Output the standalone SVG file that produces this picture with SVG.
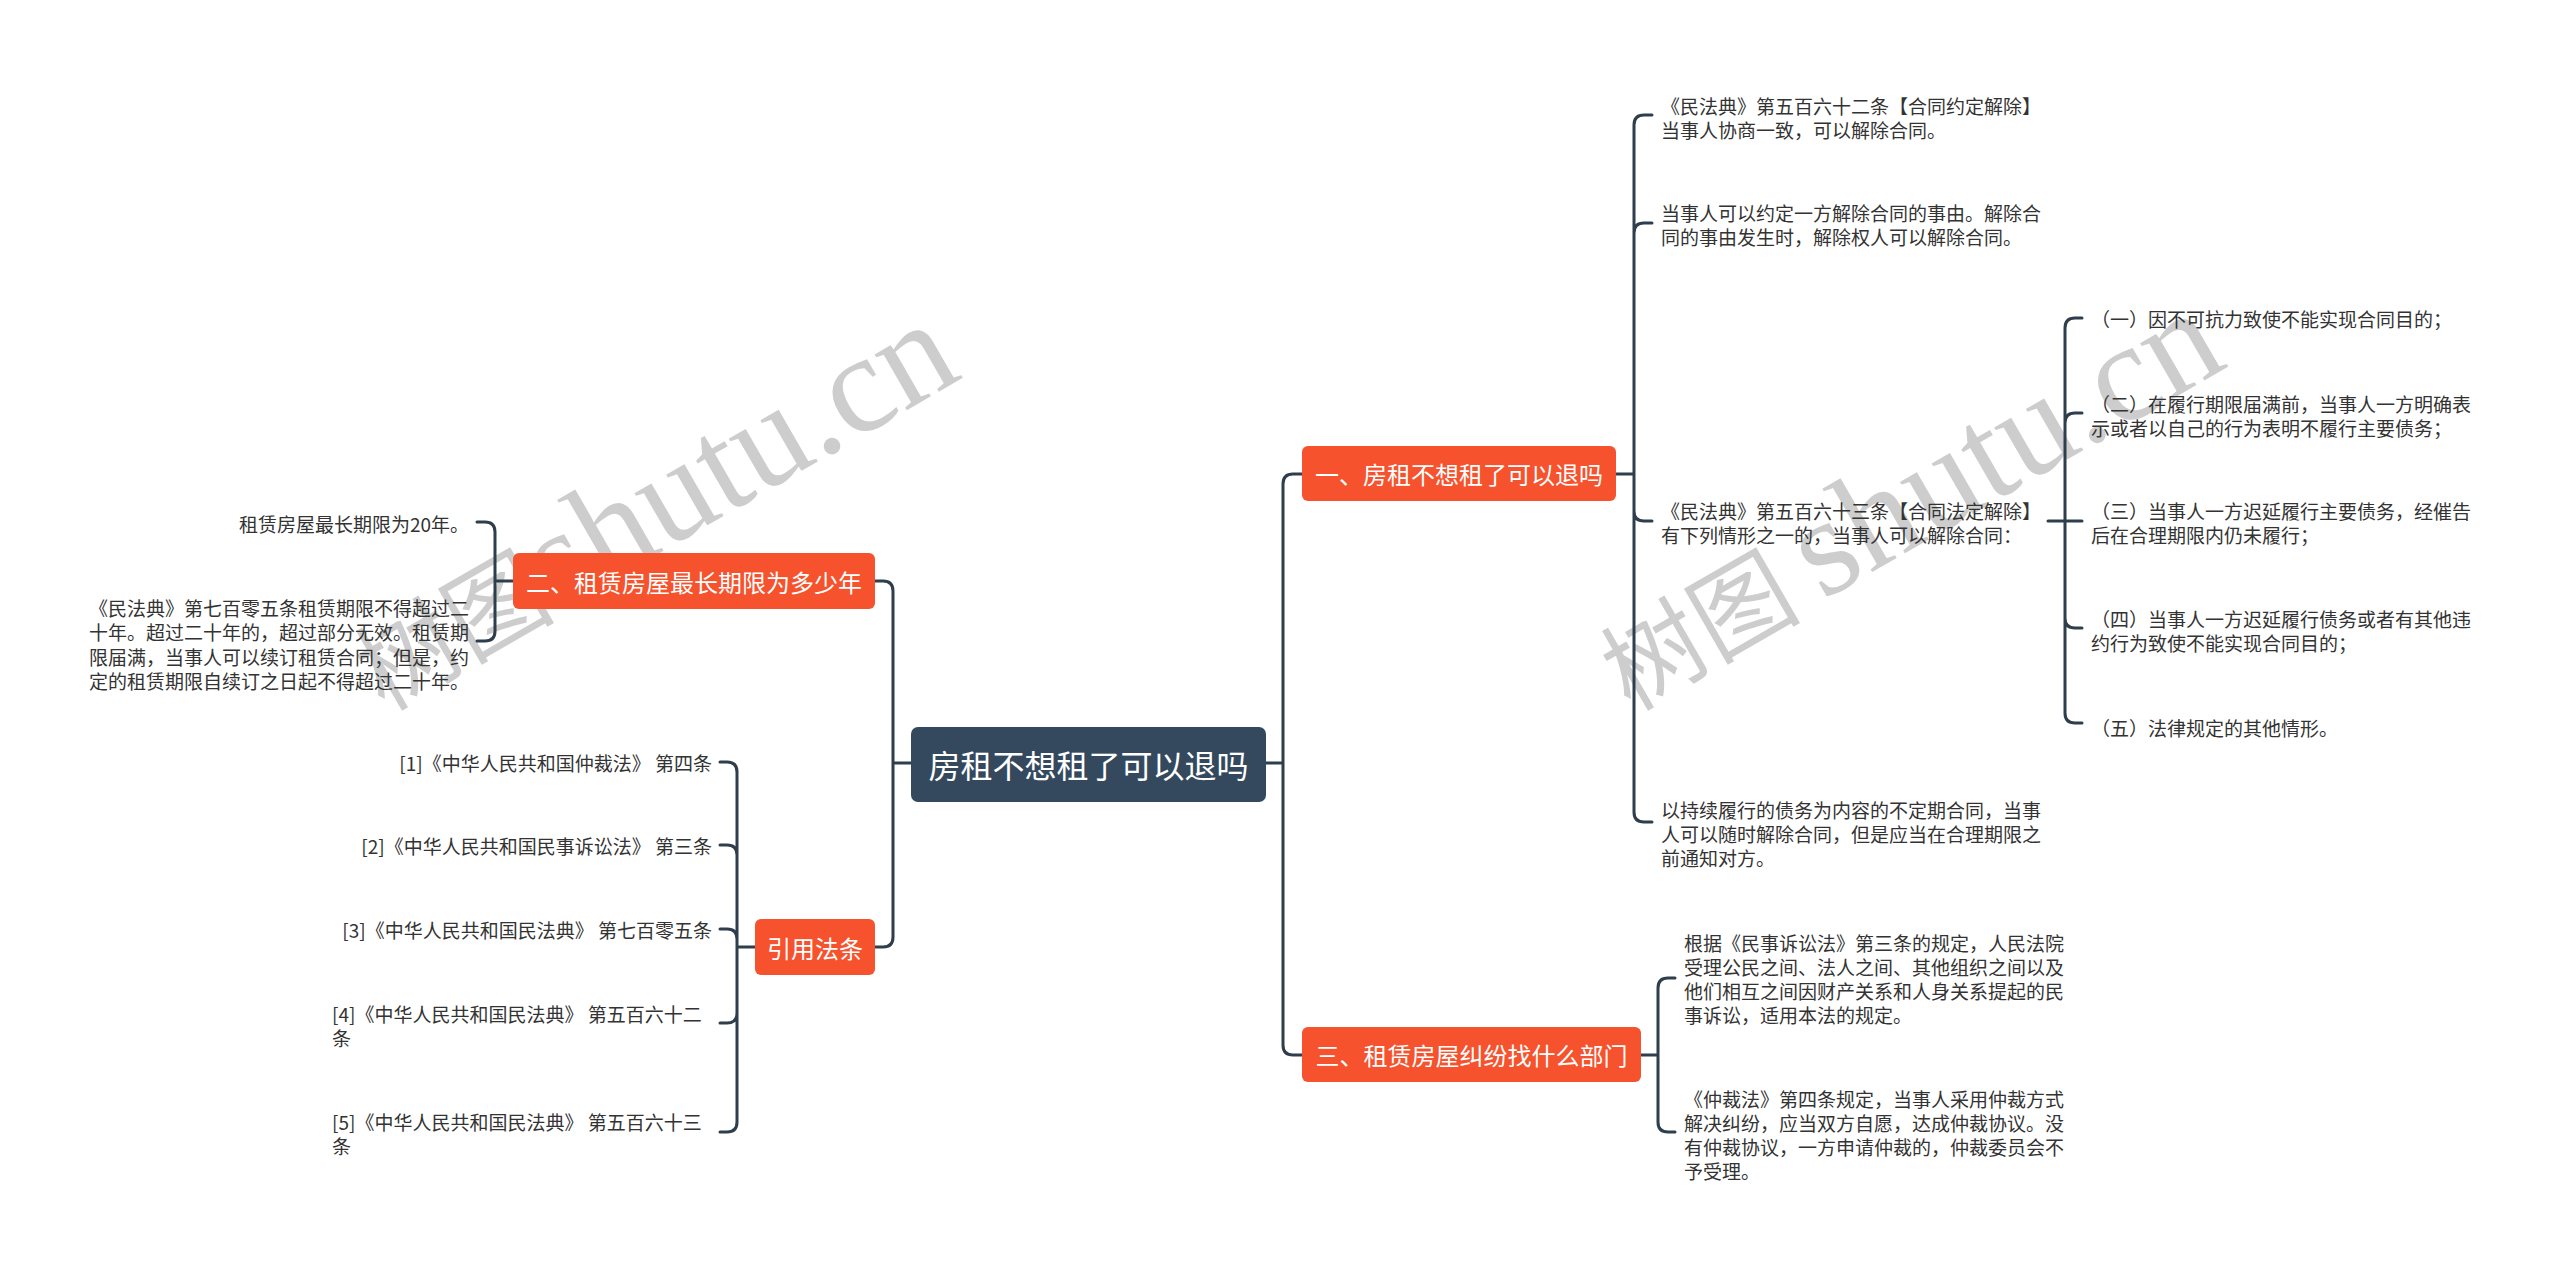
<svg xmlns="http://www.w3.org/2000/svg" width="2560" height="1272" viewBox="0 0 2560 1272">
<style>
.wm{fill:#cdcdcd;font-family:"Liberation Serif","Noto Sans CJK SC",serif;}
.wmc{font-family:"Noto Sans CJK SC","Liberation Serif",sans-serif;}
.conn{fill:none;stroke:#2f3e4d;stroke-width:3;stroke-linecap:round;stroke-linejoin:round;}
.root{fill:#34495e;}
.br{fill:#f5522d;}
.rt{fill:#ffffff;font-family:"Noto Sans CJK SC","Liberation Sans",sans-serif;font-size:32px;text-anchor:middle;dominant-baseline:central;}
.bt{fill:#ffffff;font-family:"Noto Sans CJK SC","Liberation Sans",sans-serif;font-size:24px;text-anchor:middle;dominant-baseline:central;}
.lf{fill:#333333;font-family:"Noto Sans CJK SC","Liberation Sans",sans-serif;font-size:19px;dominant-baseline:central;}
.end{text-anchor:end;}
</style>
<rect width="2560" height="1272" fill="#ffffff"/>
<g id="watermarks">
<text class="wm" transform="translate(384,712) rotate(-30)" x="0" y="0"><tspan class="wmc" font-size="100">树图</tspan><tspan font-size="140">shutu.cn</tspan></text>
<text class="wm" transform="translate(1630,712) rotate(-30)" x="0" y="0"><tspan class="wmc" font-size="100">树图 </tspan><tspan font-size="140">shutu.cn</tspan></text>
</g>
<g id="connectors">
<path class="conn" d="M1266,763 L1283,763 M1283,763 L1283,484 Q1283,474 1293,474 L1302,474 M1283,763 L1283,1045 Q1283,1055 1293,1055 L1302,1055"/>
<path class="conn" d="M1616,474 L1634,474 M1634,474 L1634,125 Q1634,115 1644,115 L1652,115 M1634,474 L1634,233 Q1634,223 1644,223 L1652,223 M1634,474 L1634,511 Q1634,521 1644,521 L1652,521 M1634,474 L1634,812 Q1634,822 1644,822 L1652,822"/>
<path class="conn" d="M2048,521 L2082,521 M2065,521 L2065,328 Q2065,318 2075,318 L2082,318 M2065,521 L2065,423 Q2065,413 2075,413 L2082,413 M2065,521 L2065,618 Q2065,628 2075,628 L2082,628 M2065,521 L2065,713 Q2065,723 2075,723 L2082,723"/>
<path class="conn" d="M1641,1055 L1658,1055 M1658,1055 L1658,988 Q1658,978 1668,978 L1675,978 M1658,1055 L1658,1122 Q1658,1132 1668,1132 L1675,1132"/>
<path class="conn" d="M911,763 L893,763 M893,763 L893,591 Q893,581 883,581 L875,581 M893,763 L893,937 Q893,947 883,947 L875,947"/>
<path class="conn" d="M513,581 L495,581 M495,581 L495,532 Q495,522 485,522 L477,522 M495,581 L495,631 Q495,641 485,641 L477,641"/>
<path class="conn" d="M755,947 L737,947 M737,947 L737,772 Q737,762 727,762 L720,762 M737,947 L737,855 Q737,845 727,845 L720,845 M737,947 L737,939 Q737,929 727,929 L720,929 M737,947 L737,1013 Q737,1023 727,1023 L720,1023 M737,947 L737,1122 Q737,1132 727,1132 L720,1132"/>
</g>
<g id="root">
<rect class="root" x="911" y="727" width="355" height="75" rx="7"/>
<text class="rt" x="1088.5" y="764">房租不想租了可以退吗</text>
</g>
<g id="branch1">
<rect class="br" x="1302" y="446" width="314" height="55" rx="6"/>
<text class="bt" x="1459" y="473.5">一、房租不想租了可以退吗</text>
</g>
<g id="branch2">
<rect class="br" x="513" y="553" width="362" height="56" rx="6"/>
<text class="bt" x="694" y="581">二、租赁房屋最长期限为多少年</text>
</g>
<g id="branch3">
<rect class="br" x="1302" y="1027" width="339" height="55" rx="6"/>
<text class="bt" x="1471.5" y="1054.5">三、租赁房屋纠纷找什么部门</text>
</g>
<g id="branch4">
<rect class="br" x="755" y="919" width="120" height="56" rx="6"/>
<text class="bt" x="815" y="947">引用法条</text>
</g>
<g id="b1c1">
<text class="lf" x="1661" y="105">《民法典》第五百六十二条【合同约定解除】</text>
<text class="lf" x="1661" y="129">当事人协商一致，可以解除合同。</text>
</g>
<g id="b1c2">
<text class="lf" x="1661" y="212">当事人可以约定一方解除合同的事由。解除合</text>
<text class="lf" x="1661" y="236">同的事由发生时，解除权人可以解除合同。</text>
</g>
<g id="b1c3">
<text class="lf" x="1661" y="510">《民法典》第五百六十三条【合同法定解除】</text>
<text class="lf" x="1661" y="534">有下列情形之一的，当事人可以解除合同：</text>
</g>
<g id="b1c4">
<text class="lf" x="1661" y="809">以持续履行的债务为内容的不定期合同，当事</text>
<text class="lf" x="1661" y="833">人可以随时解除合同，但是应当在合理期限之</text>
<text class="lf" x="1661" y="857">前通知对方。</text>
</g>
<g id="b1c3s1">
<text class="lf" x="2091" y="318">（一）因不可抗力致使不能实现合同目的；</text>
</g>
<g id="b1c3s2">
<text class="lf" x="2091" y="403">（二）在履行期限届满前，当事人一方明确表</text>
<text class="lf" x="2091" y="427">示或者以自己的行为表明不履行主要债务；</text>
</g>
<g id="b1c3s3">
<text class="lf" x="2091" y="510">（三）当事人一方迟延履行主要债务，经催告</text>
<text class="lf" x="2091" y="534">后在合理期限内仍未履行；</text>
</g>
<g id="b1c3s4">
<text class="lf" x="2091" y="618">（四）当事人一方迟延履行债务或者有其他违</text>
<text class="lf" x="2091" y="642">约行为致使不能实现合同目的；</text>
</g>
<g id="b1c3s5">
<text class="lf" x="2091" y="727">（五）法律规定的其他情形。</text>
</g>
<g id="b3c1">
<text class="lf" x="1684" y="942">根据《民事诉讼法》第三条的规定，人民法院</text>
<text class="lf" x="1684" y="966">受理公民之间、法人之间、其他组织之间以及</text>
<text class="lf" x="1684" y="990">他们相互之间因财产关系和人身关系提起的民</text>
<text class="lf" x="1684" y="1014">事诉讼，适用本法的规定。</text>
</g>
<g id="b3c2">
<text class="lf" x="1684" y="1098">《仲裁法》第四条规定，当事人采用仲裁方式</text>
<text class="lf" x="1684" y="1122">解决纠纷，应当双方自愿，达成仲裁协议。没</text>
<text class="lf" x="1684" y="1146">有仲裁协议，一方申请仲裁的，仲裁委员会不</text>
<text class="lf" x="1684" y="1170">予受理。</text>
</g>
<g id="b2c1">
<text class="lf end" x="469" y="523">租赁房屋最长期限为20年。</text>
</g>
<g id="b2c2">
<text class="lf end" x="469" y="607">《民法典》第七百零五条租赁期限不得超过二</text>
<text class="lf end" x="469" y="631">十年。超过二十年的，超过部分无效。租赁期</text>
<text class="lf end" x="469" y="656">限届满，当事人可以续订租赁合同；但是，约</text>
<text class="lf end" x="469" y="680">定的租赁期限自续订之日起不得超过二十年。</text>
</g>
<g id="ref1">
<text class="lf end" x="712" y="762">[1]《中华人民共和国仲裁法》 第四条</text>
</g>
<g id="ref2">
<text class="lf end" x="712" y="845">[2]《中华人民共和国民事诉讼法》 第三条</text>
</g>
<g id="ref3">
<text class="lf end" x="712" y="929">[3]《中华人民共和国民法典》 第七百零五条</text>
</g>
<g id="ref4">
<text class="lf" x="332" y="1013">[4]《中华人民共和国民法典》 第五百六十二</text>
<text class="lf" x="332" y="1037">条</text>
</g>
<g id="ref5">
<text class="lf" x="332" y="1121">[5]《中华人民共和国民法典》 第五百六十三</text>
<text class="lf" x="332" y="1145">条</text>
</g>
</svg>
